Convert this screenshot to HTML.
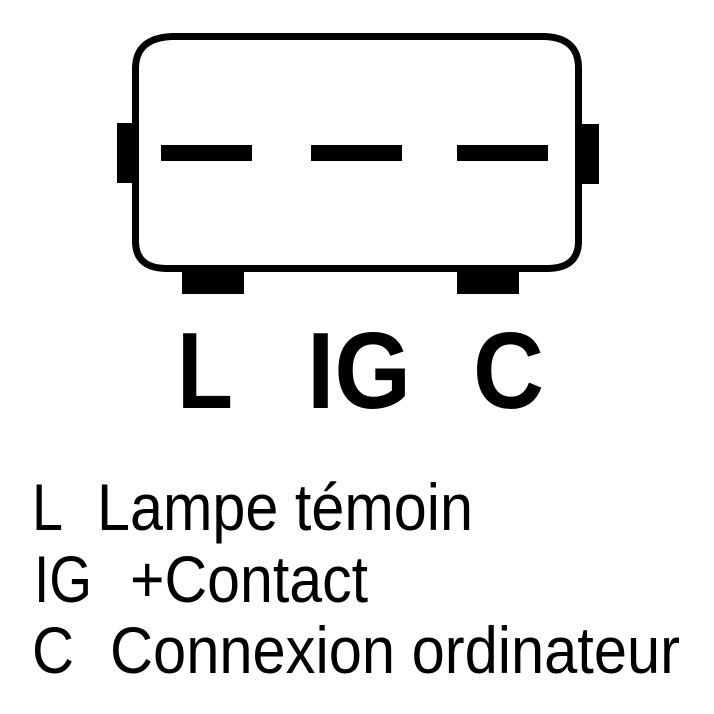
<!DOCTYPE html>
<html><head><meta charset="utf-8"><style>html,body{margin:0;padding:0;background:#fff}svg{display:block}</style></head>
<body>
<svg width="714" height="714" viewBox="0 0 714 714" xmlns="http://www.w3.org/2000/svg">
<rect width="714" height="714" fill="#fff"/>
<path d="M172 36.5 L545 36.5 Q578.5 38 578.5 68 L578.5 242 Q578 268 548 268.5 L166 268.5 Q136 268 135.5 242 L135.5 68 Q136 38 172 36.5 Z" fill="none" stroke="#000" stroke-width="7"/>
<rect x="117" y="123" width="22" height="60" fill="#000"/>
<rect x="576" y="124" width="23" height="60" fill="#000"/>
<rect x="161" y="145" width="91" height="16" fill="#000"/>
<rect x="311" y="145" width="91" height="16" fill="#000"/>
<rect x="457" y="145" width="91" height="16" fill="#000"/>
<rect x="182" y="270" width="62" height="24" fill="#000"/>
<rect x="457" y="270" width="62" height="24" fill="#000"/>
<g font-family="Liberation Sans, Arial, sans-serif" font-weight="bold" font-size="109" fill="#000">
<text x="177" y="408" textLength="56" lengthAdjust="spacingAndGlyphs">L</text>
<text x="307" y="408" textLength="104" lengthAdjust="spacingAndGlyphs">IG</text>
<text x="473" y="408" textLength="71" lengthAdjust="spacingAndGlyphs">C</text>
</g>
<g font-family="Liberation Sans, Arial, sans-serif" font-size="66" fill="#000">
<text x="32" y="530" textLength="31" lengthAdjust="spacingAndGlyphs">L</text>
<text x="97" y="530" textLength="376" lengthAdjust="spacingAndGlyphs">Lampe témoin</text>
<text x="34" y="602" textLength="58" lengthAdjust="spacingAndGlyphs">IG</text>
<text x="130" y="602" textLength="238" lengthAdjust="spacingAndGlyphs">+Contact</text>
<text x="32" y="673" textLength="42" lengthAdjust="spacingAndGlyphs">C</text>
<text x="110" y="673" textLength="570" lengthAdjust="spacingAndGlyphs">Connexion ordinateur</text>
</g>
</svg>
</body></html>
